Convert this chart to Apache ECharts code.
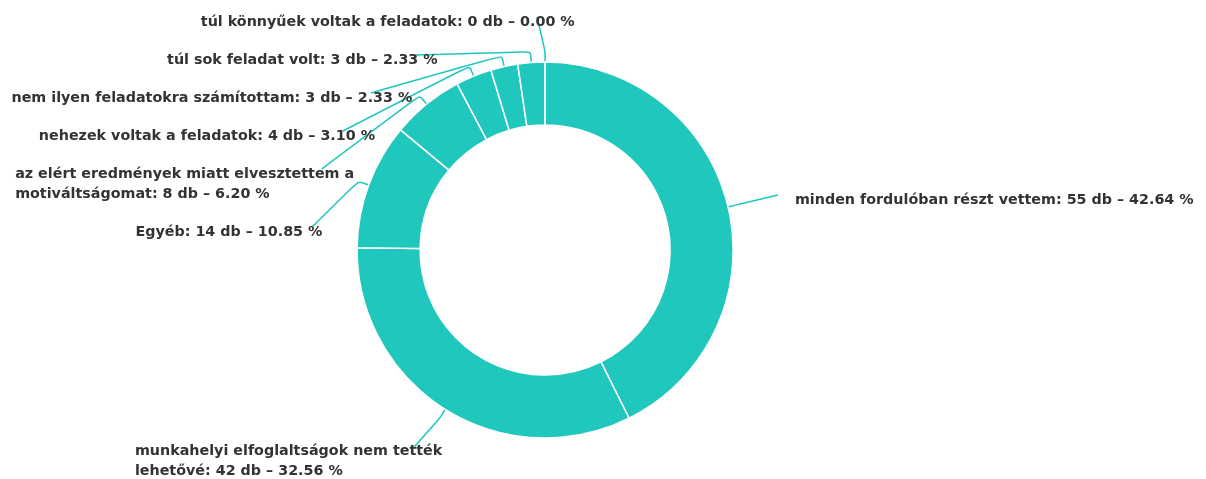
<!DOCTYPE html>
<html>
<head>
<meta charset="utf-8">
<script src="https://cdn.jsdelivr.net/npm/echarts@6/dist/echarts.min.js"></script>
<style>
  * { margin: 0; padding: 0; }
  body { background: #fff; }
  #chart { width: 1206px; height: 479px; }
</style>
</head>
<body>
<div id="chart"></div>
<script>
// válaszok, felülről az óramutató járásával egyezően
const categories = [
  'minden fordulóban részt vettem',
  'munkahelyi elfoglaltságok nem tették lehetővé',
  'Egyéb',
  'az elért eredmények miatt elvesztettem a motiváltságomat',
  'nehezek voltak a feladatok',
  'nem ilyen feladatokra számítottam',
  'túl sok feladat volt',
  'túl könnyűek voltak a feladatok'
]
const counts = [55, 42, 14, 8, 4, 3, 3, 0]

const total = counts.reduce((a, b) => a + b, 0)
const FONT_SIZE = 14.3
const LINE_H = 20
const TEXT_OFFSET = 3 // (padding top - padding bottom) / 2
const measureCtx = document.createElement('canvas').getContext('2d')
measureCtx.font = 'bold ' + FONT_SIZE + 'px "DejaVu Sans"'

// név tördelése max 40 karakteres sorokra, a végére jön a darabszám és a százalék
function labelLines(i) {
  const words = categories[i].split(' ')
  const lines = []
  let cur = ''
  words.forEach(w => {
    if (cur && (cur + ' ' + w).length > 40) { lines.push(cur); cur = w }
    else cur = cur ? cur + ' ' + w : w
  })
  lines.push(cur + ': ' + counts[i] + ' db – ' + (counts[i] / total * 100).toFixed(2) + ' %')
  return lines
}

const chart = echarts.init(document.getElementById('chart'))
chart.setOption({
  animation: false,
  color: ['#1fc7bd'],
  series: [{
    type: 'pie',
    center: ['45.2%', '52.2%'],
    radius: ['52.2%', '78.5%'],
    startAngle: 90.01,
    itemStyle: {
      borderColor: '#fff',
      borderWidth: 1.5
    },
    label: {
      color: '#333',
      fontFamily: 'DejaVu Sans',
      fontWeight: 'bold',
      fontSize: FONT_SIZE,
      lineHeight: LINE_H,
      padding: [11, 12, 5, 12],
      overflow: 'none',
      bleedMargin: -100,
      formatter: function (p) {
        return labelLines(p.dataIndex).map(l => '{t|' + l + '}').join('\n')
      },
      rich: {
        t: {
          color: '#333',
          fontFamily: 'DejaVu Sans',
          fontWeight: 'bold',
          fontSize: FONT_SIZE,
          lineHeight: LINE_H,
          align: 'left'
        }
      }
    },
    labelLine: {
      length: 43,
      length2: 8,
      smooth: 0.2,
      lineStyle: { width: 1.5 }
    },
    labelLayout: function (p) {
      const lay = chart.getModel().getSeriesByIndex(0).getData().getItemLayout(p.dataIndex)
      const pts = p.labelLinePoints
      if (!lay || !pts) return {}
      const lines = labelLines(p.dataIndex)
      const w = Math.max.apply(null, lines.map(l => measureCtx.measureText(l).width))
      const r = p.labelRect
      const midY = r.y + r.height / 2
      const leftSide = p.align === 'right'
      const y = midY > lay.cy ? midY + lines.length * LINE_H / 2 - 7 : midY
      const x = leftSide ? r.x + r.width + w * 0.146 : r.x
      const a = (lay.startAngle + lay.endAngle) / 2
      const p0 = pts[0]
      const p1 = [p0[0] + Math.cos(a) * 11, p0[1] + Math.sin(a) * 11]
      const firstLineY = y + TEXT_OFFSET - (lines.length - 1) * LINE_H / 2
      const p2 = [pts[2][0], firstLineY - 5]
      return { x: x, y: y, labelLinePoints: [p0, p1, p2] }
    },
    data: categories.map((c, i) => ({ name: c, value: counts[i] }))
  }]
})
</script>
</body>
</html>
